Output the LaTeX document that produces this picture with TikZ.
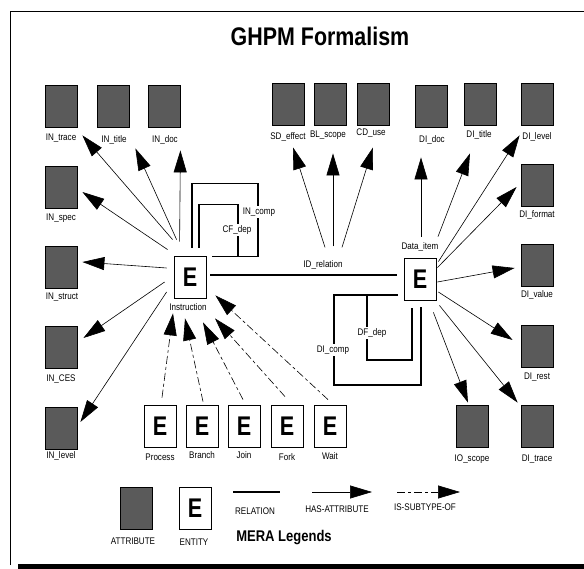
\documentclass[tikz,border=0pt]{standalone}
\usepackage{fontspec}
\setmainfont{Liberation Sans}
\newfontfamily\condfont[FakeStretch=0.84]{Liberation Sans}
\newfontfamily\efont[FakeStretch=0.8]{Liberation Sans}
\usetikzlibrary{arrows.meta,calc}
\definecolor{attrgray}{RGB}{90,90,90}
\tikzset{
  attr/.style={draw=black, fill=attrgray, line width=0.8pt, minimum width=32pt, minimum height=42pt, inner sep=0pt},
  ent/.style={draw=black, fill=white, line width=0.8pt, minimum width=32pt, minimum height=42pt, inner sep=0pt, font=\efont\fontsize{27}{27}\selectfont\bfseries},
  lbl/.style={font=\condfont\fontsize{9.6}{10}\selectfont, inner sep=1pt},
  wlbl/.style={lbl, fill=white, inner sep=2pt},
  has/.style={-{Triangle[length=22pt,width=13pt]}, line width=0.6pt},
  sub/.style={has, dash pattern=on 8pt off 3pt on 3pt off 3pt},
  rel/.style={line width=1.8pt},
}
\begin{document}
\begin{tikzpicture}[x=1pt,y=-1pt]
\useasboundingbox (0,0) rectangle (584,569);
% frame
\draw[line width=0.8pt] (10,565) -- (10,11) -- (584,11);
\fill[black] (18,564) rectangle (584,569);
\node[font=\condfont\fontsize{25.5}{28}\selectfont\bfseries] (title) at (320,36) {GHPM Formalism};

% Instruction attributes
\node[attr] (intrace) at (61,106) {};
\node[lbl] (intraceL) at (61,138) {IN\_trace};
\node[attr] (intitle) at (113,106) {};
\node[lbl] (intitleL) at (114,140) {IN\_title};
\node[attr] (indoc) at (164,106) {};
\node[lbl] (indocL) at (165,140) {IN\_doc};
\node[attr] (inspec) at (61,187) {};
\node[lbl] (inspecL) at (61,218) {IN\_spec};
\node[attr] (instruct) at (61,267) {};
\node[lbl] (instructL) at (62,297) {IN\_struct};
\node[attr] (inces) at (61,347) {};
\node[lbl] (incesL) at (61,379) {IN\_CES};
\node[attr] (inlevel) at (61,428) {};
\node[lbl] (inlevelL) at (61,456) {IN\_level};

% ID relation attributes
\node[attr] (sdeffect) at (288,104) {};
\node[lbl] (sdeffectL) at (288,137) {SD\_effect};
\node[attr] (blscope) at (330,104) {};
\node[lbl] (blscopeL) at (328,135) {BL\_scope};
\node[attr] (cduse) at (373,104) {};
\node[lbl] (cduseL) at (371,133) {CD\_use};

% Data item attributes
\node[attr] (didoc) at (431,106) {};
\node[lbl] (didocL) at (432,140) {DI\_doc};
\node[attr] (dititle) at (480,104) {};
\node[lbl] (dititleL) at (479,135) {DI\_title};
\node[attr] (dilevel) at (537,104) {};
\node[lbl] (dilevelL) at (537,137) {DI\_level};
\node[attr] (diformat) at (537,185) {};
\node[lbl] (diformatL) at (537,215) {DI\_format};
\node[attr] (divalue) at (537,265) {};
\node[lbl] (divalueL) at (537,295) {DI\_value};
\node[attr] (direst) at (537,346) {};
\node[lbl] (direstL) at (537,377) {DI\_rest};
\node[attr] (ditrace) at (537,426) {};
\node[lbl] (ditraceL) at (537,459) {DI\_trace};
\node[attr] (ioscope) at (472,426) {};
\node[lbl] (ioscopeL) at (472,459) {IO\_scope};

% Entities
\node[ent] (inst) at (190,277) {E};
\node[lbl] (instL) at (188,307) {Instruction};
\node[ent] (data) at (420,279) {E};
\node[lbl] (dataL) at (420,247) {Data\_item};

\node[ent] (process) at (160,426) {E};
\node[lbl] (processL) at (160,457) {Process};
\node[ent] (branch) at (202,426) {E};
\node[lbl] (branchL) at (202,455) {Branch};
\node[ent] (join) at (244,426) {E};
\node[lbl] (joinL) at (244,455) {Join};
\node[ent] (fork) at (287,426) {E};
\node[lbl] (forkL) at (287,457) {Fork};
\node[ent] (wait) at (330,426) {E};
\node[lbl] (waitL) at (330,456) {Wait};

% Instruction has-attribute arrows
\draw[has] ([shift={(-1,-16)}]inst.north west) -- ([shift={(5,8)}]intrace.south east);
\draw[has] ([shift={(3,-16)}]inst.north west) -- ([shift={(6,21)}]intitle.south east);
\draw[has] ([shift={(6,-14)}]inst.north west) -- ([shift={(0,23)}]indoc.south east);
\draw[has] ([shift={(-6,-6)}]inst.north west) -- ([shift={(5,5)}]inspec.east);
\draw[has] ([shift={(-7,-9)}]inst.west) -- ([shift={(5,-5)}]instruct.east);
\draw[has] ([shift={(-9,5)}]inst.west) -- ([shift={(6,-9)}]inces.east);
\draw[has] ([shift={(-7,15)}]inst.west) -- ([shift={(3,-6)}]inlevel.east);

% Subtype arrows
\draw[sub] ([shift={(2,-7)}]process.north) -- ([shift={(-17,15)}]inst.south);
\draw[sub] ([shift={(1,-3)}]branch.north) -- ([shift={(-5,20)}]inst.south);
\draw[sub] ([shift={(-1,-5)}]join.north) -- ([shift={(13,24)}]inst.south);
\draw[sub] ([shift={(-2,-8)}]fork.north) -- ([shift={(25,20)}]inst.south);
\draw[sub] ([shift={(-2,-5)}]wait.north) -- ([shift={(9,-3)}]inst.south east);

% ID relation
\draw[rel] ([shift={(4,-2)}]inst.east) -- ($(inst.east -| data.west)+(-7,-2)$);
\node[lbl] (idrel) at (323,265) {ID\_relation};
\draw[has] ([shift={(2,-12)}]idrel.north) -- ([shift={(5,22)}]sdeffect.south);
\draw[has] ([shift={(10,-13)}]idrel.north) -- ([shift={(3,28)}]blscope.south);
\draw[has] ([shift={(19,-12)}]idrel.north) -- ([shift={(0,22)}]cduse.south);

% Data item has-attribute arrows
\draw[has] ([shift={(1,-21)}]data.north) -- ([shift={(-10,30)}]didoc.south);
\draw[has] ([shift={(18,-21)}]data.north) -- ([shift={(-10,28)}]dititle.south);
\draw[has] ([shift={(2,4)}]data.north east) -- ([shift={(-1,10)}]dilevel.south west);
\draw[has] ([shift={(1,10)}]data.north east) -- ([shift={(-4,2)}]diformat.west);
\draw[has] ([shift={(1,3)}]data.east) -- ([shift={(-6,3)}]divalue.west);
\draw[has] ([shift={(2,13)}]data.east) -- ([shift={(-8,-6)}]direst.west);
\draw[has] ([shift={(3,5)}]data.south east) -- ([shift={(-3,-2)}]ditrace.north west);
\draw[has] ([shift={(-3,12)}]data.south east) -- ([shift={(-4,-2)}]ioscope.north);

% Recursive relations on Instruction
\draw[rel] ([shift={(2,-8)}]inst.north) -- ++(0,-64) -- ++(66,0) -- ++(0,73) -- ++(-46,0);
\draw[rel] ([shift={(9,-8)}]inst.north) -- ++(0,-43) -- ++(39,0) -- ++(0,52);
\node[wlbl] (incomp) at (259,212) {IN\_comp};
\node[wlbl] (cfdep) at (237,230) {CF\_dep};

% Recursive relations on Data item
\draw[rel] ([shift={(-6,16)}]data.west) -- ++(-64,0) -- ++(0,90) -- ++(87,0) -- ++(0,-78);
\draw[rel] ([shift={(-37,16)}]data.west) -- ++(0,65) -- ++(45,0) -- ++(0,-52);
\node[wlbl] (dicomp) at (333,350) {DI\_comp};
\node[wlbl] (dfdep) at (372,333) {DF\_dep};

% Legend
\node[attr] (legattr) at (136,508) {};
\node[lbl] (legattrL) at (133,541) {ATTRIBUTE};
\node[ent] (legent) at (195,508) {E};
\node[lbl] (legentL) at (194,542) {ENTITY};
\coordinate (r1) at (233,492);
\coordinate (r2) at (280,492);
\draw[rel] (r1) -- (r2);
\node[lbl] (relL) at (255,511) {RELATION};
\coordinate (h1) at (312,492);
\coordinate (h2) at (372,492);
\draw[has] (h1) -- (h2);
\node[lbl] (hasL) at (337,509) {HAS-ATTRIBUTE};
\coordinate (s1) at (397,492);
\coordinate (s2) at (460,492);
\draw[sub] (s1) -- (s2);
\node[lbl] (subL) at (425,507) {IS-SUBTYPE-OF};
\node[font=\condfont\fontsize{15.5}{17}\selectfont\bfseries] (mera) at (284,538) {MERA Legends};
\end{tikzpicture}
\end{document}
